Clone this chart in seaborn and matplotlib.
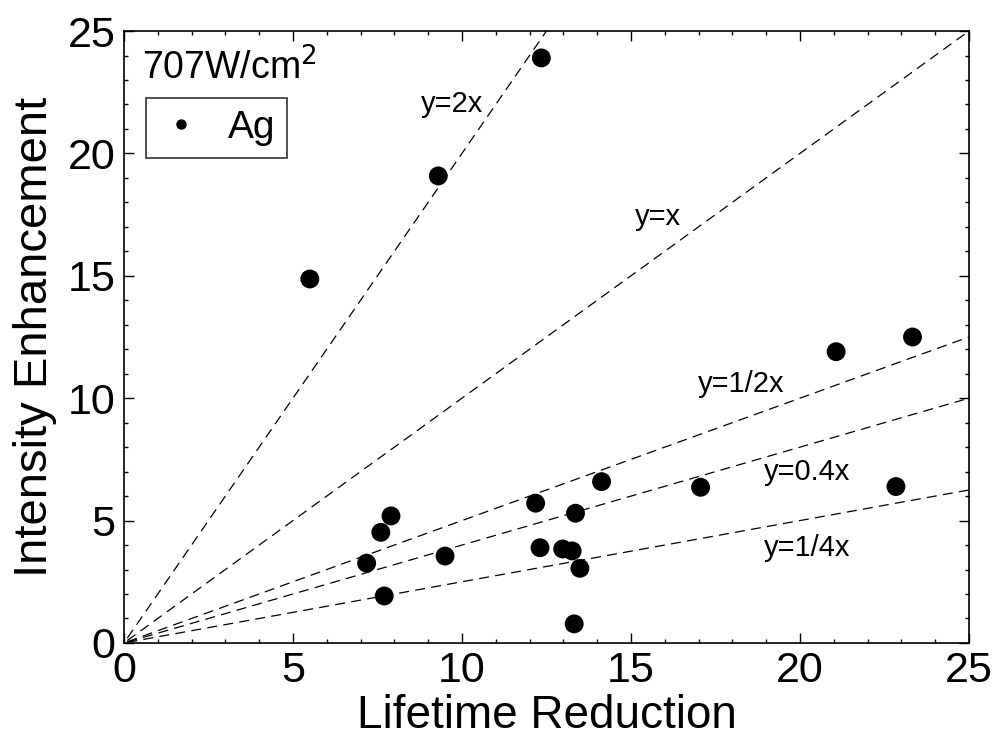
import numpy as np
import pandas as pd
import matplotlib
matplotlib.use("Agg")
import matplotlib.pyplot as plt
import seaborn as sns

# Data
lifetime_reduction = [12.35, 9.3, 5.5, 21.07, 23.33, 17.06, 22.84, 14.13,
                      7.90, 7.60, 7.18, 7.70, 9.50, 12.18, 13.36, 12.31,
                      12.98, 13.26, 13.49, 13.32]
intensity_enhancement = [23.9, 19.08, 14.87, 11.9, 12.5, 6.36, 6.39, 6.59,
                         5.19, 4.52, 3.26, 1.92, 3.55, 5.71, 5.30, 3.89,
                         3.84, 3.76, 3.05, 0.78]
series_label = "Ag"

ref_slopes = [2.0, 1.0, 0.5, 0.4, 0.25]
ref_labels = ["y=2x", "y=x", "y=1/2x", "y=0.4x", "y=1/4x"]
ref_label_x = [9.7, 15.8, 18.25, 20.2, 20.2]
ref_label_y = [22.0, 17.4, 10.6, 7.0, 3.9]

x_ticks = [0, 5, 10, 15, 20, 25]
y_ticks = [0, 5, 10, 15, 20, 25]

df = pd.DataFrame({"x": lifetime_reduction, "y": intensity_enhancement,
                   "Sample": series_label})

sns.set_style("white")
plt.rcParams["font.family"] = ["Liberation Sans", "DejaVu Sans"]
plt.rcParams["text.color"] = "black"
plt.rcParams["axes.labelcolor"] = "black"
plt.rcParams["xtick.color"] = "black"
plt.rcParams["ytick.color"] = "black"

fig = plt.figure(figsize=(9.98, 7.44), dpi=100)
ax = fig.add_axes([0.1242, 0.1358, 0.8467, 0.8225])

# reference lines
for s in ref_slopes:
    xs = np.array([0.1, 25.0])
    ax.plot(xs, s * xs, color="black", lw=0.9, linestyle=(0, (8, 5)), zorder=1)

sns.scatterplot(data=df, x="x", y="y", hue="Sample", palette=["black"],
                s=185, marker="o", edgecolor="black", linewidth=0, ax=ax,
                zorder=3)

for lab, lx, ly in zip(ref_labels, ref_label_x, ref_label_y):
    ax.text(lx, ly, lab, fontsize=21, ha="center", va="center", color="black")

ax.text(0.021, 0.94, "707W/cm$^2$", transform=ax.transAxes, fontsize=27,
        ha="left", va="center", color="black")

ax.set_xlim(0, 25)
ax.set_ylim(0, 25)
ax.set_xticks(x_ticks)
ax.set_yticks(y_ticks)
ax.set_xticks(np.arange(0, 26, 1), minor=True)
ax.set_yticks(np.arange(0, 26, 1), minor=True)
ax.tick_params(which="both", direction="in", top=True, right=True,
               bottom=True, left=True, color="black", labelcolor="black",
               width=1)
ax.tick_params(which="major", length=7, labelsize=31, pad=6)
ax.tick_params(which="minor", length=3)
for sp in ax.spines.values():
    sp.set_color("black")
    sp.set_linewidth(1.2)

ax.set_xlabel("Lifetime Reduction", fontsize=33, labelpad=2, color="black")
ax.set_ylabel("Intensity Enhancement", fontsize=34, labelpad=8, color="black")

leg = ax.legend(loc="upper left", bbox_to_anchor=(0.026, 0.89),
                fontsize=28, frameon=True, fancybox=False, shadow=False,
                markerscale=0.55, handletextpad=0.6, borderpad=0.3,
                handlelength=1.2, borderaxespad=0)
leg.get_frame().set_edgecolor("black")
leg.get_frame().set_linewidth(1.2)
for t in leg.get_texts():
    t.set_color("black")
leg.set_title(None)

fig.savefig("out.png", dpi=100, facecolor="white")
